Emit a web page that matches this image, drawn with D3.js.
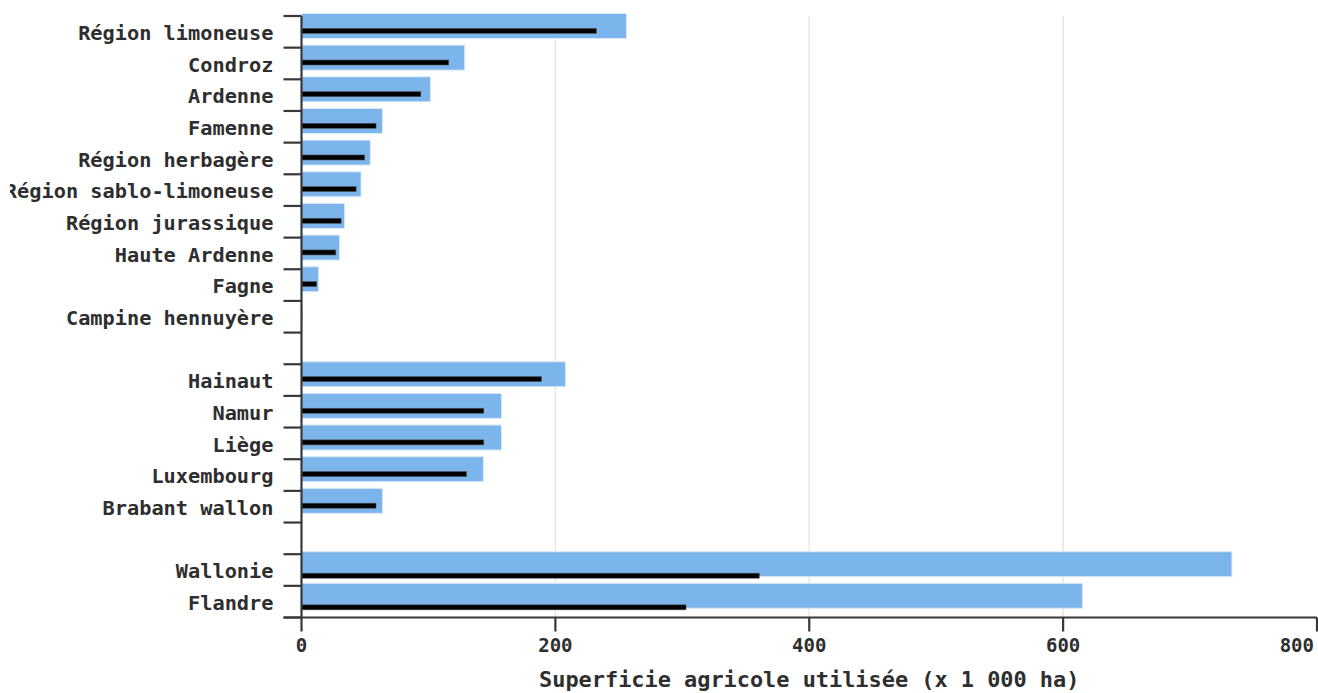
<!DOCTYPE html>
<html>
<head>
<meta charset="utf-8">
<script src="https://cdn.jsdelivr.net/npm/d3@7"></script>
<style>
  html, body { margin: 0; padding: 0; background: #fff; }
  svg { display: block; }
  text { font-family: "DejaVu Sans Mono", monospace; font-weight: bold; fill: #2e2e2e; }
</style>
</head>
<body>
<svg id="chart" width="1318" height="693"></svg>
<script>
// ---- data ----
const categories = [
  "Région limoneuse", "Condroz", "Ardenne", "Famenne", "Région herbagère",
  "Région sablo-limoneuse", "Région jurassique", "Haute Ardenne", "Fagne", "Campine hennuyère",
  "_gap1",
  "Hainaut", "Namur", "Liège", "Luxembourg", "Brabant wallon",
  "_gap2",
  "Wallonie", "Flandre"
];
const groups = [
  "region", "region", "region", "region", "region",
  "region", "region", "region", "region", "region",
  "gap",
  "province", "province", "province", "province", "province",
  "gap",
  "total", "total"
];
const totalValues = [256, 128.6, 101.6, 63.9, 54.2, 46.9, 34, 30, 13.5, 0.5,
  null, 208, 157.5, 157.5, 143.3, 63.9, null, 733, 615.2];
const partValues = [232.3, 116, 94, 58.7, 49.8, 43, 31.2, 27, 11.9, 0.4,
  null, 189, 143.6, 143.6, 130, 58.7, null, 360.6, 302.9];
const xTicks = [0, 200, 400, 600, 800];
const gridTicks = [200, 400, 600];
const xTitle = "Superficie agricole utilisée (x 1 000 ha)";

// ---- layout ----
const svg = d3.select("#chart");
const mLeft = 301.5, mRight = 1317, mTop = 16, mBottom = 617.5;

const x = d3.scaleLinear().domain([0, 800]).range([mLeft, mRight]);
const y = d3.scaleBand().domain(categories).range([mTop, mBottom]).padding(0);
const bw = y.bandwidth();
const partOffset = d3.scaleOrdinal().domain(["region", "province", "total"]).range([0.39, 0.39, 0.6]);

const rows = categories.map((c, i) => ({cat: c, group: groups[i], total: totalValues[i], part: partValues[i]}))
  .filter(d => d.group !== "gap");

svg.append("defs").append("clipPath").attr("id", "labelClip")
  .append("rect").attr("x", 10).attr("y", 0).attr("width", 1308).attr("height", 693);

// grid
svg.append("g").selectAll("line").data(gridTicks).join("line")
  .attr("x1", d => x(d)).attr("x2", d => x(d))
  .attr("y1", mTop).attr("y2", mBottom)
  .attr("stroke", "#e6e6e6").attr("stroke-width", 1.5);

// blue bars
svg.append("g").selectAll("rect").data(rows).join("rect")
  .attr("x", x(0))
  .attr("y", d => y(d.cat) - 0.08 * bw)
  .attr("width", d => x(d.total) - x(0))
  .attr("height", 0.79 * bw)
  .attr("fill", "#7cb5ec")
  .attr("stroke", "#dbeaf9").attr("stroke-width", 1);

// black bars
svg.append("g").selectAll("rect").data(rows).join("rect")
  .attr("x", x(0))
  .attr("y", d => y(d.cat) + partOffset(d.group) * bw)
  .attr("width", d => x(d.part) - x(0))
  .attr("height", 5)
  .attr("fill", "#000")
  .attr("stroke", "#555").attr("stroke-width", 0.6);

// y axis: labels at band centres, ticks at band boundaries
const boundaries = categories.map(c => y(c)).concat([mBottom]);
const yAxis = svg.append("g");
yAxis.selectAll("line.tick").data(boundaries).join("line")
  .attr("class", "tick")
  .attr("x1", mLeft - 18).attr("x2", mLeft)
  .attr("y1", d => d).attr("y2", d => d)
  .attr("stroke", "#383838").attr("stroke-width", 2.2);
yAxis.append("line")
  .attr("x1", mLeft).attr("x2", mLeft).attr("y1", mTop).attr("y2", mBottom)
  .attr("stroke", "#383838").attr("stroke-width", 2.2);
yAxis.append("g").attr("clip-path", "url(#labelClip)")
  .selectAll("text").data(rows).join("text")
  .attr("x", mLeft - 28)
  .attr("y", d => y(d.cat) + bw / 2)
  .attr("dy", "0.4em")
  .attr("text-anchor", "end")
  .attr("font-size", 20.3)
  .text(d => d.cat);

// x axis
const xAxis = svg.append("g");
xAxis.append("line")
  .attr("x1", mLeft - 18).attr("x2", mRight).attr("y1", mBottom).attr("y2", mBottom)
  .attr("stroke", "#383838").attr("stroke-width", 2.2);
xAxis.selectAll("line.tick").data(xTicks).join("line")
  .attr("class", "tick")
  .attr("x1", d => x(d)).attr("x2", d => x(d))
  .attr("y1", mBottom).attr("y2", mBottom + 14)
  .attr("stroke", "#383838").attr("stroke-width", 2.2);
xAxis.selectAll("text").data(xTicks).join("text")
  .attr("x", (d, i) => i === xTicks.length - 1 ? mRight - 3 : x(d))
  .attr("y", mBottom + 28)
  .attr("dy", "0.36em")
  .attr("text-anchor", (d, i) => i === xTicks.length - 1 ? "end" : "middle")
  .attr("font-size", 19)
  .text(d => d);

svg.append("text")
  .attr("x", (mLeft + mRight) / 2)
  .attr("y", 687)
  .attr("text-anchor", "middle")
  .attr("font-size", 21.9)
  .text(xTitle);
</script>
</body>
</html>
